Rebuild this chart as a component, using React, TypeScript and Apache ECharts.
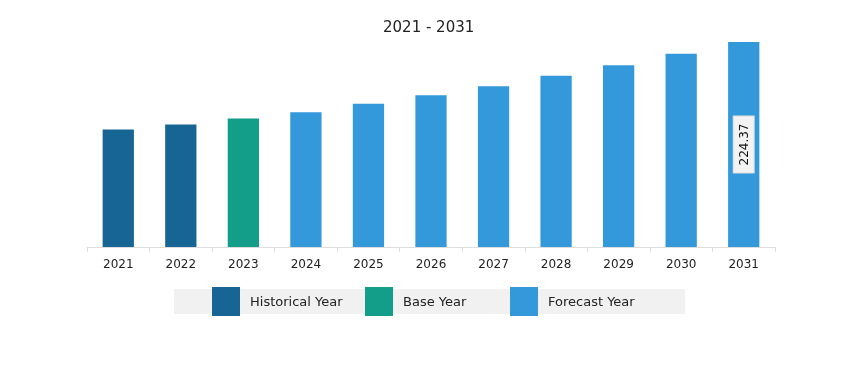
import React, { useEffect, useRef } from "react";
import * as echarts from "echarts";

const years = ["2021", "2022", "2023", "2024", "2025", "2026", "2027", "2028", "2029", "2030", "2031"];
const historical = [128.6, 134.1, null, null, null, null, null, null, null, null, null];
const baseYear = [null, null, 140.7, null, null, null, null, null, null, null, null];
const forecast = [null, null, null, 147.5, 156.8, 166.1, 176.0, 187.4, 198.9, 211.5, 224.37];
const titleText = "2021 - 2031";
const legendNames = ["Historical Year", "Base Year", "Forecast Year"];
const colors = ["#176594", "#139e8a", "#3399db"];

const FONT = "DejaVu Sans";

export default function App() {
  const ref = useRef<HTMLDivElement>(null);
  useEffect(() => {
    document.body.style.margin = "0";
    const chart = echarts.init(ref.current!, null, { renderer: "svg" });
    const mk = (name: string, data: (number | null)[], color: string, withLabel: boolean) => ({
      name,
      type: "bar",
      stack: "all",
      barWidth: "50%",
      data: data.map((v, i) =>
        withLabel && i === data.length - 1
          ? {
              value: v,
              label: {
                show: true,
                position: "inside",
                rotate: 90,
                formatter: "{c}",
                color: "#111",
                fontFamily: FONT,
                fontSize: 12,
                backgroundColor: "#f3f3f3",
                borderColor: "#dcdcdc",
                borderWidth: 1,
                padding: [4, 7],
              },
            }
          : v
      ),
      itemStyle: { color },
    });
    const legendLefts = [212, 365, 510];
    chart.setOption({
      animation: false,
      title: {
        text: titleText,
        left: 378,
        top: 14,
        textStyle: { fontFamily: FONT, fontSize: 15, fontWeight: "normal", color: "#222" },
      },
      graphic: [
        {
          type: "rect",
          z: 0,
          shape: { x: 174, y: 289, width: 511, height: 25 },
          style: { fill: "#f1f1f1" },
        },
      ],
      legend: legendNames.map((n, i) => ({
        data: [n],
        left: legendLefts[i],
        top: 287,
        padding: 0,
        itemWidth: 28,
        itemHeight: 29,
        icon: "rect",
        z: 5,
        textStyle: { fontFamily: FONT, fontSize: 13, color: "#222", padding: [0, 0, 0, 5] },
      })),
      grid: { left: 87, right: 69, top: 42, bottom: 118 },
      xAxis: {
        type: "category",
        data: years,
        axisLine: { lineStyle: { color: "#dddddd" } },
        axisTick: { show: true, length: 5, lineStyle: { color: "#dddddd" } },
        axisLabel: { fontFamily: FONT, fontSize: 12, color: "#222", margin: 11 },
      },
      yAxis: { type: "value", min: 0, max: 224.37, show: false, splitLine: { show: false } },
      series: [
        mk(legendNames[0], historical, colors[0], false),
        mk(legendNames[1], baseYear, colors[1], false),
        mk(legendNames[2], forecast, colors[2], true),
      ],
    });
    return () => chart.dispose();
  }, []);
  return <div ref={ref} style={{ position: "fixed", left: 0, top: 0, width: 844, height: 365 }} />;
}
